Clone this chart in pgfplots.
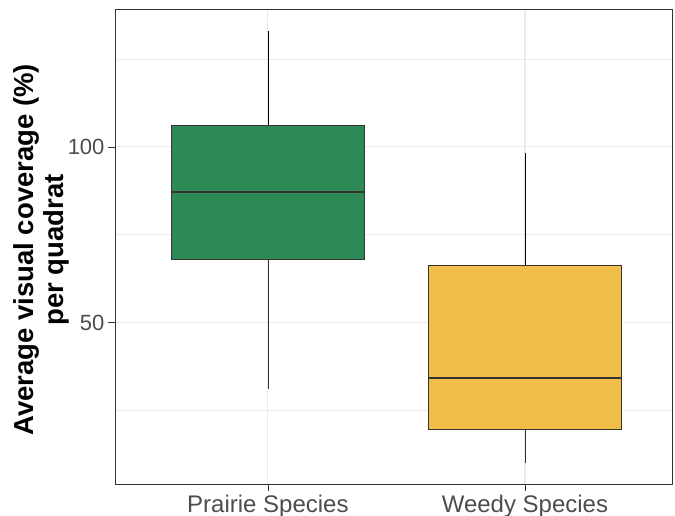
\documentclass[border=0pt]{standalone}
\usepackage{fontspec}
\setmainfont{Liberation Sans}
\usepackage{pgfplots}
\pgfplotsset{compat=1.18}
\definecolor{prairie}{HTML}{2E8B57}
\definecolor{weedy}{HTML}{F0BE48}
\definecolor{gridc}{HTML}{EBEBEB}
\definecolor{ink}{HTML}{333333}
\definecolor{ticktext}{HTML}{4D4D4D}
\begin{document}
\begin{tikzpicture}
\begin{axis}[
  scale only axis, width=557pt, height=474.6pt,
  xmin=0.405, xmax=2.572, ymin=3.9, ymax=139.1,
  xtick={1,2}, xticklabels={Prairie Species, Weedy Species},
  ytick={50,100}, minor ytick={25,75,125},
  grid=both,
  major grid style={gridc, line width=1.1pt},
  minor grid style={gridc, line width=0.55pt},
  axis line style={ink, line width=0.8pt},
  tick style={ink, line width=0.8pt},
  minor tick style={draw=none},
  tick align=outside, major tick length=7pt,
  xtick pos=bottom, ytick pos=left,
  /pgf/number format/assume math mode=true,
  yticklabel style={font=\fontsize{22}{26}\selectfont, text=ticktext},
  xticklabel style={font=\fontsize{24}{28}\selectfont, text=ticktext},
  ylabel={Average visual coverage (\%)\\per quadrat},
  ylabel style={align=center, font=\bfseries\fontsize{27.5}{30}\selectfont,
    at={(axis description cs:-0.081,0.494)}, anchor=south, inner sep=0pt},
  cycle list={{ink, mark=none}},
  every axis plot/.append style={line width=0.8pt},
]
% Prairie Species: whiskers 31.1 / 133.1, box 68.0 - 106.1, median 87.1
\addplot coordinates {(1,31.1) (1,68.0)};
\addplot coordinates {(1,106.1) (1,133.1)};
\addplot[ink, fill=prairie] coordinates {(0.625,68.0) (1.375,68.0) (1.375,106.1) (0.625,106.1)} -- cycle;
\addplot[ink, line width=2pt] coordinates {(0.625,87.1) (1.375,87.1)};
% Weedy Species: whiskers 10.1 / 98.2, box 19.4 - 66.3, median 34.1
\addplot coordinates {(2,10.1) (2,19.4)};
\addplot coordinates {(2,66.3) (2,98.2)};
\addplot[ink, fill=weedy] coordinates {(1.625,19.4) (2.375,19.4) (2.375,66.3) (1.625,66.3)} -- cycle;
\addplot[ink, line width=2pt] coordinates {(1.625,34.1) (2.375,34.1)};
\end{axis}
\pgfresetboundingbox
\useasboundingbox ([shift={(-115pt,-31.7pt)}]current axis.south west) rectangle ([shift={(3pt,9.7pt)}]current axis.north east);
\end{tikzpicture}
\end{document}
